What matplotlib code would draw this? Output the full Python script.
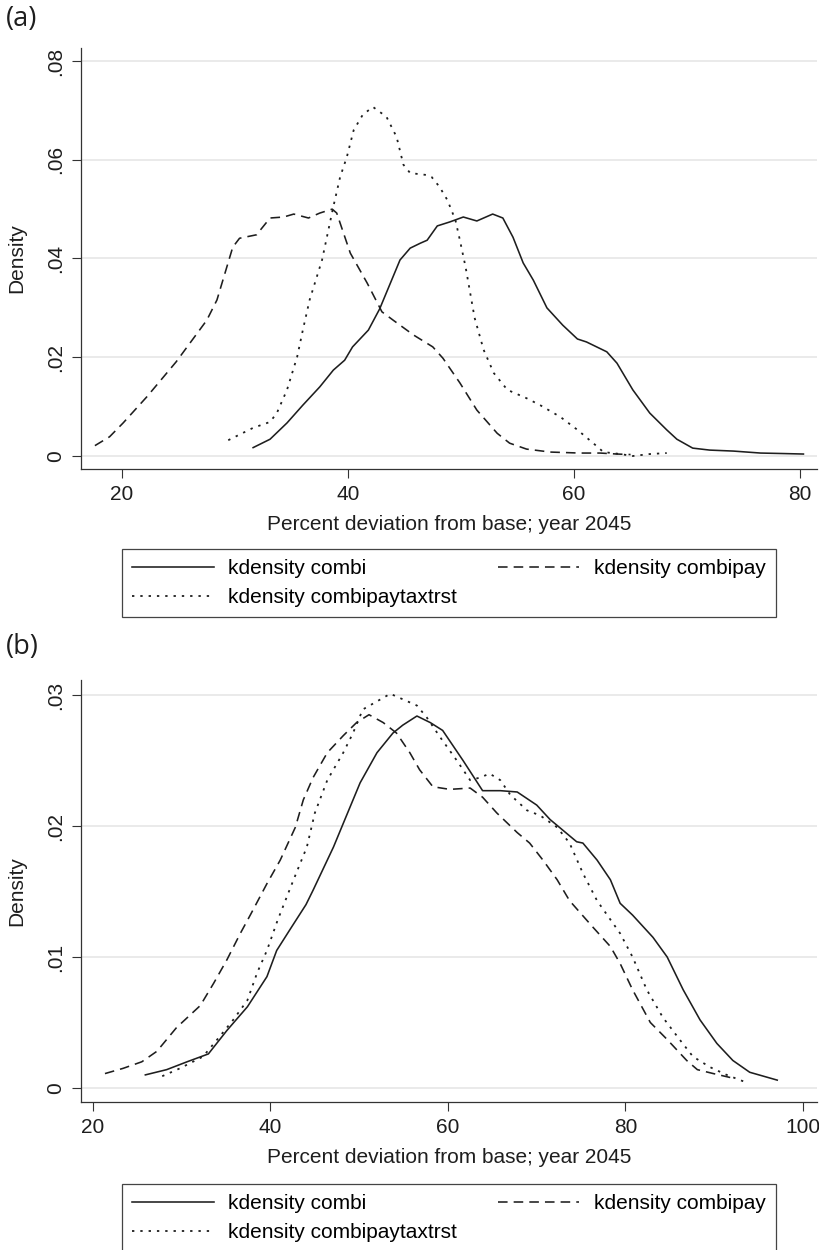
import matplotlib.pyplot as plt

plt.rcParams['font.family'] = ['Liberation Sans', 'DejaVu Sans']

# panel (a): year 2045, percent deviation from base
a_combi_x = [31.6, 33.1, 34.6, 36.0, 37.5, 38.7, 39.7, 40.4, 41.8, 42.8, 44.6, 45.5, 46.4, 47.0,
             47.9, 49.0, 50.2, 51.4, 52.8, 53.7, 54.6, 55.5, 56.4, 57.6, 59.0, 60.3, 61.1, 62.9,
             63.8, 65.2, 66.7, 68.2, 69.1, 70.5, 72.0, 74.1, 76.5, 78.5, 80.3]
a_combi_y = [0.0017, 0.0034, 0.0067, 0.0103, 0.0140, 0.0174, 0.0194, 0.0221, 0.0255, 0.0298,
             0.0397, 0.0421, 0.0431, 0.0437, 0.0466, 0.0474, 0.0484, 0.0476, 0.0490, 0.0482,
             0.0443, 0.0391, 0.0356, 0.0300, 0.0265, 0.0237, 0.0231, 0.0211, 0.0188, 0.0134,
             0.0087, 0.0053, 0.0034, 0.0016, 0.0012, 0.0010, 0.0006, 0.0005, 0.0004]

a_pay_x = [17.6, 18.9, 20.1, 22.2, 24.8, 27.5, 28.4, 29.8, 30.4, 31.9, 33.1, 34.3, 35.2, 36.5,
           37.5, 38.6, 39.0, 40.2, 41.7, 43.0, 44.0, 45.8, 47.5, 48.4, 49.9, 51.4, 53.2, 54.3,
           55.8, 57.9, 60.5, 62.3, 63.8, 65.0]
a_pay_y = [0.0021, 0.0039, 0.0067, 0.0120, 0.0191, 0.0275, 0.0316, 0.0423, 0.0441, 0.0448,
           0.0482, 0.0484, 0.0490, 0.0482, 0.0492, 0.0500, 0.0492, 0.0411, 0.0350, 0.0292,
           0.0275, 0.0245, 0.0221, 0.0198, 0.0148, 0.0093, 0.0046, 0.0026, 0.0014, 0.0008,
           0.0006, 0.0006, 0.0004, 0.0003]

a_tax_x = [29.4, 31.6, 33.1, 33.7, 34.6, 35.5, 36.0, 36.6, 37.7, 38.7, 39.3, 39.9, 40.5, 41.3,
           42.2, 43.4, 44.3, 44.9, 45.5, 47.0, 47.4, 48.1, 48.8, 49.5, 49.9, 50.4, 51.2, 52.0,
           52.9, 54.1, 55.8, 57.0, 58.8, 60.3, 61.7, 62.6, 64.1, 65.2, 66.7, 68.2]
a_tax_y = [0.0032, 0.0057, 0.0069, 0.0087, 0.0134, 0.0201, 0.0255, 0.0316, 0.0397, 0.0505,
           0.0565, 0.0606, 0.0660, 0.0691, 0.0707, 0.0687, 0.0646, 0.0590, 0.0573, 0.0569,
           0.0565, 0.0545, 0.0518, 0.0478, 0.0437, 0.0383, 0.0280, 0.0215, 0.0168, 0.0134,
           0.0117, 0.0103, 0.0079, 0.0053, 0.0026, 0.0008, 0.0004, 0.0000, 0.0004, 0.0006]

# panel (b)
b_combi_x = [25.9, 28.3, 30.6, 33.0, 35.1, 37.4, 39.6, 40.7, 42.2, 44.0, 44.8, 47.1, 48.2, 50.1,
             52.0, 53.8, 54.9, 56.5, 58.0, 59.4, 61.7, 63.9, 65.9, 67.8, 70.0, 71.5, 74.5, 75.2,
             76.8, 78.3, 79.4, 80.8, 83.1, 84.7, 86.5, 88.4, 90.3, 92.1, 94.0, 97.1]
b_combi_y = [0.0010, 0.0014, 0.0020, 0.0026, 0.0044, 0.0062, 0.0085, 0.0105, 0.0121, 0.0140,
             0.0151, 0.0184, 0.0202, 0.0233, 0.0256, 0.0271, 0.0277, 0.0284, 0.0279, 0.0273,
             0.0250, 0.0227, 0.0227, 0.0226, 0.0216, 0.0205, 0.0188, 0.0187, 0.0174, 0.0159,
             0.0141, 0.0132, 0.0115, 0.0100, 0.0075, 0.0052, 0.0034, 0.0021, 0.0012, 0.0006]

b_pay_x = [21.35, 23.4, 25.5, 27.2, 29.4, 32.1, 33.6, 35.1, 36.6, 37.8, 39.6, 41.1, 42.8, 43.7,
           44.8, 46.4, 48.2, 49.7, 51.1, 52.7, 54.2, 55.7, 56.8, 58.3, 60.2, 62.5, 63.9, 65.5,
           67.8, 69.2, 70.7, 72.3, 73.7, 76.3, 78.3, 79.4, 80.8, 82.8, 84.7, 86.9, 88.1, 89.9,
           91.8]
b_pay_y = [0.0011, 0.0015, 0.0020, 0.0028, 0.0046, 0.0063, 0.0080, 0.0098, 0.0118, 0.0133,
           0.0156, 0.0174, 0.0199, 0.0220, 0.0237, 0.0256, 0.0269, 0.0279, 0.0285, 0.0279,
           0.0271, 0.0256, 0.0243, 0.0230, 0.0228, 0.0229, 0.0222, 0.0210, 0.0195, 0.0187,
           0.0174, 0.0159, 0.0143, 0.0123, 0.0108, 0.0095, 0.0075, 0.0050, 0.0037, 0.0021,
           0.0014, 0.0011, 0.0008]

b_tax_x = [27.8, 29.8, 32.4, 34.0, 35.8, 37.4, 38.5, 39.6, 40.8, 42.6, 44.1, 45.0, 46.4, 48.2,
           49.3, 50.4, 53.5, 56.5, 57.6, 59.1, 61.0, 62.5, 63.6, 64.7, 65.9, 67.0, 68.9, 70.4,
           72.3, 73.7, 75.2, 76.8, 79.4, 80.8, 82.4, 84.2, 86.1, 87.6, 89.5, 91.4, 93.7]
b_tax_y = [0.0009, 0.0015, 0.0024, 0.0037, 0.0052, 0.0067, 0.0088, 0.0105, 0.0128, 0.0159,
           0.0184, 0.0210, 0.0235, 0.0256, 0.0271, 0.0289, 0.0301, 0.0292, 0.0283, 0.0268,
           0.0250, 0.0235, 0.0237, 0.0240, 0.0235, 0.0224, 0.0212, 0.0208, 0.0199, 0.0187,
           0.0164, 0.0143, 0.0118, 0.0100, 0.0075, 0.0054, 0.0037, 0.0024, 0.0016, 0.0010,
           0.0004]

labels = ['kdensity combi', 'kdensity combipay', 'kdensity combipaytaxtrst']
ink = '#1e1e1e'
dash = (0, (6.0, 3.8))
dots = (0, (1.3, 3.3))
FS = 15

fig = plt.figure(figsize=(8.19, 12.5), dpi=100)
W, H = 819, 1250


def panel(top, bottom, xlim, ylim, xticks, yticks, yticklabels, series, leg_top, tag, tag_y):
    ax = fig.add_axes([81 / W, 1 - bottom / H, 736 / W, (bottom - top) / H])
    (cx, cy), (px, py), (tx, ty) = series
    l1, = ax.plot(cx, cy, color=ink, lw=1.15, ls='-')
    l2, = ax.plot(px, py, color=ink, lw=1.15, ls=dash)
    l3, = ax.plot(tx, ty, color=ink, lw=1.3, ls=dots)
    ax.set_xlim(*xlim)
    ax.set_ylim(*ylim)
    ax.set_xticks(xticks)
    ax.set_yticks(yticks)
    ax.set_yticklabels(yticklabels, rotation=90, va='center')
    ax.grid(axis='y', color='#e6e6e6', lw=1.2)
    ax.set_axisbelow(True)
    for s in ['top', 'right']:
        ax.spines[s].set_visible(False)
    for s in ['left', 'bottom']:
        ax.spines[s].set_color('#333333')
        ax.spines[s].set_linewidth(0.9)
    ax.tick_params(length=6.5, width=0.8, color='#333333', labelsize=FS, labelcolor=ink, pad=5)
    ax.set_xlabel('Percent deviation from base; year 2045', fontsize=FS, color=ink)
    ax.set_ylabel('Density', fontsize=FS, color=ink)
    ax.xaxis.set_label_coords(0.5, -46 / (bottom - top))
    ax.yaxis.set_label_coords((26 - 81) / 736, 0.5)
    leg = fig.legend([l1, l3, l2], [labels[0], labels[2], labels[1]], ncol=2, loc='upper left',
                     bbox_to_anchor=(122 / W, 1 - (leg_top + 68) / H, 654 / W, 68 / H),
                     mode='expand', fontsize=FS, frameon=True, fancybox=False,
                     edgecolor='#444444', framealpha=1, handlelength=3.9, handletextpad=0.7,
                     labelspacing=0.45, borderpad=0.5, borderaxespad=0)
    leg.get_frame().set_linewidth(0.9)
    fig.text(6 / W, 1 - tag_y / H, tag, fontsize=19.5, family='Open Sans', color=ink,
             va='center', ha='left')
    return ax


panel(48, 469, (16.37, 81.5), (-0.00263, 0.08263), [20, 40, 60, 80],
      [0, 0.02, 0.04, 0.06, 0.08], ['0', '.02', '.04', '.06', '.08'],
      [(a_combi_x, a_combi_y), (a_pay_x, a_pay_y), (a_tax_x, a_tax_y)], 549, '(a)', 19)

panel(680, 1102, (18.65, 101.58), (-0.00107, 0.03115), [20, 40, 60, 80, 100],
      [0, 0.01, 0.02, 0.03], ['0', '.01', '.02', '.03'],
      [(b_combi_x, b_combi_y), (b_pay_x, b_pay_y), (b_tax_x, b_tax_y)], 1184, '(b)', 647)

fig.savefig('out.png', dpi=100)
